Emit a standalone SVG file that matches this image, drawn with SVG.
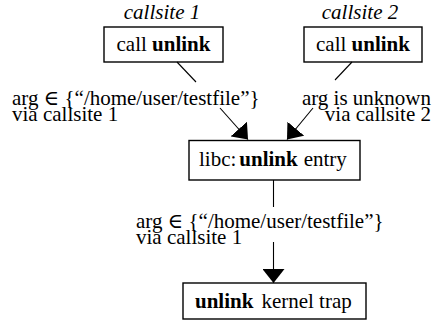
<svg xmlns="http://www.w3.org/2000/svg" width="433" height="324" viewBox="0 0 433 324">
  <style>
    text { font-family: "Liberation Serif", "DejaVu Serif", serif; font-size: 21px; fill: #000; }
    .site { font-style: italic; text-anchor: middle; }
    .b { font-weight: bold; }
    .box { fill: #fff; stroke: #000; stroke-width: 1.4; }
    .edge { stroke: #000; stroke-width: 1.1; fill: none; }
  </style>
  <defs>
    <marker id="head" markerUnits="userSpaceOnUse" viewBox="0 -11 14 22" markerWidth="14" markerHeight="22" refX="14" refY="0" orient="auto">
      <path d="M0,-11 L14,0 L0,11 z" fill="#000"/>
    </marker>
  </defs>
  <rect width="433" height="324" fill="#fff"/>

  <!-- call sites -->
  <g id="callsite1">
    <text class="site" x="162" y="19">callsite 1</text>
    <rect class="box" x="104" y="27" width="119" height="35"/>
    <text x="163.5" y="51" text-anchor="middle">call <tspan class="b">unlink</tspan></text>
  </g>
  <g id="callsite2">
    <text class="site" x="360" y="19">callsite 2</text>
    <rect class="box" x="304" y="27" width="118" height="35"/>
    <text x="363" y="51" text-anchor="middle">call <tspan class="b">unlink</tspan></text>
  </g>

  <!-- library entry point -->
  <g id="libc-entry">
    <rect class="box" x="189" y="140.5" width="171" height="39.5"/>
    <text x="199" y="166">libc:<tspan class="b" dx="3">unlink</tspan><tspan dx="6">entry</tspan></text>
  </g>

  <!-- kernel trap -->
  <g id="kernel-trap">
    <rect class="box" x="183" y="283" width="183" height="36"/>
    <text x="195" y="308"><tspan class="b">unlink</tspan><tspan dx="8">kernel trap</tspan></text>
  </g>

  <!-- connectors and their labels -->
  <g id="connectors">
    <line class="edge" x1="177" y1="62" x2="196" y2="82"/>
    <line class="edge" x1="220" y1="108" x2="248" y2="139.5" marker-end="url(#head)"/>
    <line class="edge" x1="352" y1="62" x2="335" y2="80"/>
    <line class="edge" x1="313" y1="108" x2="287" y2="139.5" marker-end="url(#head)"/>
    <line class="edge" x1="273.5" y1="180" x2="273.5" y2="207"/>
    <line class="edge" x1="273.5" y1="242" x2="273.5" y2="283" marker-end="url(#head)"/>

    <text x="12" y="105">arg ∈ {“/home/user/testfile”}</text>
    <text x="12" y="121">via callsite 1</text>
    <text x="431" y="105" text-anchor="end">arg is unknown</text>
    <text x="431" y="121" text-anchor="end">via callsite 2</text>
    <text x="136" y="228">arg ∈ {“/home/user/testfile”}</text>
    <text x="136" y="244">via callsite 1</text>
  </g>
</svg>
